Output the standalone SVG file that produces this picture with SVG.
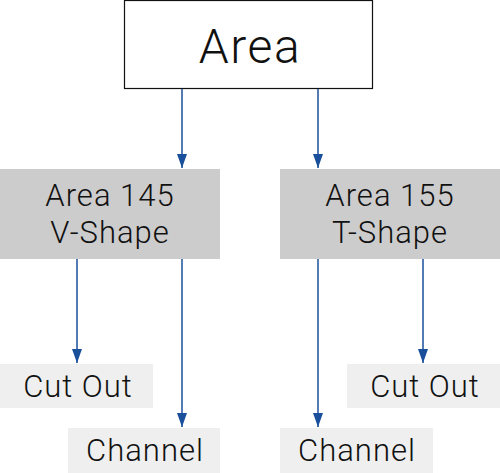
<svg xmlns="http://www.w3.org/2000/svg" width="500" height="473" viewBox="0 0 500 473">
<style>
.t{font-family:Roboto,"Liberation Sans",sans-serif;font-weight:300;fill:#111;text-anchor:middle}
.big{font-size:48px;letter-spacing:1.5px}
.mid{font-size:31px;letter-spacing:1px}
.dark{fill:#cdcccd}
.light{fill:#efefef}
.c line{stroke:#1a4f9c;stroke-width:1.5;marker-end:url(#ah)}
</style>
<defs>
<marker id="ah" markerUnits="userSpaceOnUse" markerWidth="15" markerHeight="11" refX="14" refY="5" orient="auto" viewBox="0 0 15 10">
<path d="M0,0 L14,5 L0,10 Z" fill="#1a4f9c"/>
</marker>
</defs>
<g id="area">
<rect x="124.5" y="0.5" width="248" height="88" fill="#fff" stroke="#111" stroke-width="1.2"/>
<text class="t big" x="250" y="63">Area</text>
</g>
<g id="area145">
<rect class="dark" x="0" y="169" width="220" height="90"/>
<text class="t mid" x="110" y="206">Area 145</text>
<text class="t mid" x="110" y="243">V-Shape</text>
</g>
<g id="area155">
<rect class="dark" x="280" y="169" width="220" height="90"/>
<text class="t mid" x="390" y="206">Area 155</text>
<text class="t mid" x="390" y="243">T-Shape</text>
</g>
<g id="cutout1">
<rect class="light" x="0" y="364" width="153" height="44"/>
<text class="t mid" x="78" y="397">Cut Out</text>
</g>
<g id="channel1">
<rect class="light" x="68" y="428" width="152" height="45"/>
<text class="t mid" x="145" y="461">Channel</text>
</g>
<g id="cutout2">
<rect class="light" x="347" y="364" width="153" height="44"/>
<text class="t mid" x="425" y="397">Cut Out</text>
</g>
<g id="channel2">
<rect class="light" x="280" y="428" width="153" height="45"/>
<text class="t mid" x="357" y="461">Channel</text>
</g>
<g class="c" id="connectors">
<line x1="182" y1="89" x2="182" y2="168"/>
<line x1="318" y1="89" x2="318" y2="168"/>
<line x1="77" y1="259" x2="77" y2="363"/>
<line x1="182" y1="259" x2="182" y2="427"/>
<line x1="318" y1="259" x2="318" y2="427"/>
<line x1="423" y1="259" x2="423" y2="363"/>
</g>
</svg>
